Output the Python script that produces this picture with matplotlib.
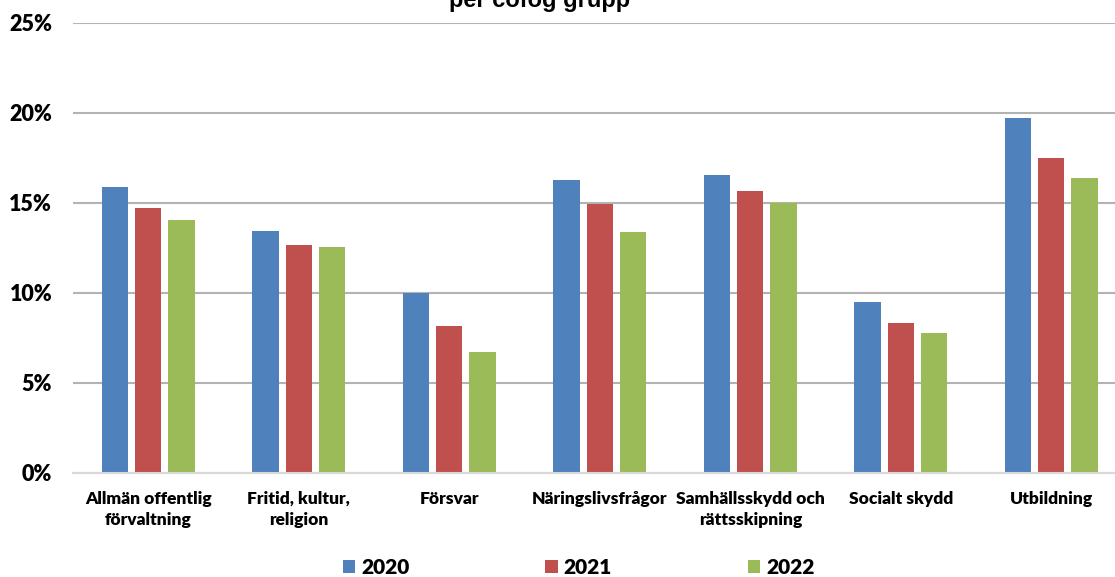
import numpy as np
import matplotlib
matplotlib.use("Agg")
import matplotlib.pyplot as plt
from matplotlib.patches import Patch

# Andel per COFOG-grupp, tre år
categories = ["Allmän offentlig\nförvaltning", "Fritid, kultur,\nreligion", "Försvar",
              "Näringslivsfrågor", "Samhällsskydd och\nrättsskipning", "Socialt skydd",
              "Utbildning"]
years = ["2020", "2021", "2022"]
v2020 = [15.85, 13.4, 10.0, 16.27, 16.54, 9.5, 19.72]
v2021 = [14.7, 12.63, 8.15, 14.93, 15.64, 8.32, 17.46]
v2022 = [14.04, 12.52, 6.72, 13.37, 14.98, 7.74, 16.38]
yticks = [0, 5, 10, 15, 20, 25]

colors = ["#4F81BD", "#C0504D", "#9BBB59"]
font = "Lato"
weight = "heavy"

fig = plt.figure(figsize=(11.15, 5.77), dpi=100)
ax = fig.add_axes([0.0655, 0.1811, 0.9448, 0.7795])

x = np.arange(len(categories))
w = 0.175
step = 0.221
for i, vals in enumerate([v2020, v2021, v2022]):
    ax.bar(x + (i - 1) * step, vals, width=w, color=colors[i], zorder=3)

ax.set_xlim(-0.5, len(categories) - 0.5)
ax.set_ylim(0, 25)
ax.set_yticks(yticks)
ax.set_yticklabels([f"{t}%" for t in yticks], fontsize=15.5, fontweight=weight,
                   family=font)
ax.set_xticks(x)
ax.set_xticklabels(categories, fontsize=12.5, fontweight=weight, family=font,
                   linespacing=1.4)
ax.tick_params(axis="both", length=0)
ax.tick_params(axis="y", pad=15)
ax.tick_params(axis="x", pad=13)

ax.grid(axis="y", color="#B3B3B3", linewidth=1.5, zorder=0)
for s in ["top", "right", "left"]:
    ax.spines[s].set_visible(False)
ax.spines["bottom"].set_color("#D9D9D9")
ax.spines["bottom"].set_linewidth(1.5)
ax.spines["bottom"].set_zorder(4)

fig.text(0.4843, 1 - 7 / 577, "per cofog grupp", ha="center", va="baseline",
         fontsize=17, fontweight="bold", family="Liberation Sans")

handles = [Patch(facecolor=c) for c in colors]
fig.legend(handles, years, loc="center", bbox_to_anchor=(0.519, 1 - 567 / 577),
           ncol=3, frameon=False, handlelength=0.6, handleheight=0.6,
           handletextpad=0.3, columnspacing=6.5,
           prop={"family": font, "weight": weight, "size": 15})

fig.savefig("out.png", dpi=100)
